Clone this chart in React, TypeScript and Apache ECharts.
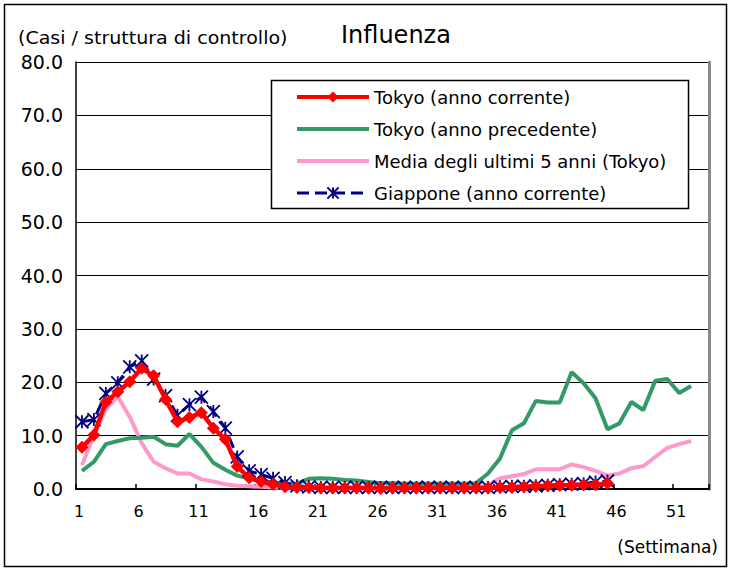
import React, { useEffect, useRef } from "react";
import * as echarts from "echarts";

const weeks = [
  "1","2","3","4","5","6","7","8","9","10","11","12","13","14","15","16","17","18","19","20",
  "21","22","23","24","25","26","27","28","29","30","31","32","33","34","35","36","37","38","39","40",
  "41","42","43","44","45","46","47","48","49","50","51","52","53",
];

const tokyoCurrent = [
  7.8, 10.1, 16.3, 18.2, 20.1, 22.6, 21.2, 16.8, 12.6, 13.4,
  14.3, 11.4, 9.3, 4.2, 2.1, 1.4, 0.9, 0.4, 0.3, 0.3,
  0.2, 0.2, 0.2, 0.2, 0.2, 0.1, 0.2, 0.2, 0.2, 0.2,
  0.2, 0.2, 0.2, 0.2, 0.2, 0.3, 0.3, 0.4, 0.5, 0.6,
  0.7, 0.7, 0.8, 0.8, 1.1,
];

const tokyoPrevious = [
  3.4, 5.1, 8.4, 9.0, 9.5, 9.6, 9.8, 8.4, 8.1, 10.3,
  7.9, 4.9, 3.6, 2.5, 2.0, 1.5, 1.2, 1.0, 1.0, 1.9,
  2.0, 1.9, 1.7, 1.6, 1.3, 1.1, 1.1, 1.0, 1.0, 1.0,
  1.0, 1.0, 1.0, 1.1, 2.9, 5.7, 11.0, 12.3, 16.5, 16.2,
  16.2, 21.9, 19.8, 17.0, 11.2, 12.3, 16.3, 14.8, 20.3, 20.6,
  18.0, 19.3,
];

const avg5Years = [
  4.5, 10.0, 15.0, 17.3, 13.5, 8.6, 5.1, 3.9, 2.9, 2.9,
  1.8, 1.4, 0.9, 0.6, 0.5, 0.4, 0.3, 0.3, 0.3, 0.3,
  0.3, 0.3, 0.3, 0.3, 0.3, 0.3, 0.3, 0.3, 0.3, 0.3,
  0.3, 0.3, 0.3, 0.3, 0.8, 2.0, 2.4, 2.8, 3.7, 3.7,
  3.7, 4.6, 4.1, 3.4, 2.5, 2.9, 3.9, 4.3, 6.0, 7.7,
  8.4, 9.0,
];

const japanCurrent = [
  12.6, 13.0, 17.9, 19.9, 22.9, 24.0, 20.6, 17.5, 13.8, 15.8,
  17.2, 14.5, 11.4, 6.0, 3.4, 2.7, 2.0, 1.2, 0.6, 0.4,
  0.3, 0.3, 0.3, 0.3, 0.3, 0.3, 0.3, 0.3, 0.3, 0.3,
  0.3, 0.3, 0.3, 0.3, 0.3, 0.4, 0.5, 0.5, 0.6, 0.7,
  0.8, 0.9, 1.0, 1.3, 1.5,
];

const names = [
  "Tokyo (anno corrente)",
  "Tokyo (anno precedente)",
  "Media degli ultimi 5 anni (Tokyo)",
  "Giappone (anno corrente)",
];

const FONT = "DejaVu Sans";
const STAR = "path://M0,0L10,10M10,0L0,10M5,0L5,10";

export default function App() {
  const ref = useRef<HTMLDivElement>(null);
  useEffect(() => {
    if (!ref.current) return;
    const chart = echarts.init(ref.current, undefined, { renderer: "svg" });
    chart.setOption({
      animation: false,
      backgroundColor: "#fff",
      textStyle: { fontFamily: FONT },
      title: {
        text: "Influenza",
        left: 336,
        top: 18,
        textStyle: { fontFamily: FONT, fontSize: 24, fontWeight: "normal", color: "#000" },
      },
      grid: { left: 76, right: 21, top: 62, bottom: 82, containLabel: false },
      legend: {
        orient: "vertical",
        left: 271,
        top: 80,
        padding: [8, 10, 10, 24],
        itemWidth: 72,
        itemHeight: 14,
        itemGap: 14,
        z: 10,
        lineStyle: { width: 4 },
        data: [
          { name: names[0] },
          { name: names[1], itemStyle: { opacity: 0 } },
          { name: names[2], itemStyle: { opacity: 0 } },
          { name: names[3], lineStyle: { width: 3 } },
        ],
        textStyle: { fontFamily: FONT, fontSize: 18, color: "#000" },
      },
      xAxis: {
        type: "category",
        data: weeks,
        boundaryGap: true,
        axisLine: { lineStyle: { color: "#000", width: 2 } },
        axisTick: { show: true, inside: true, length: 5, interval: 4, lineStyle: { color: "#000", width: 1.5 } },
        axisLabel: {
          interval: 4,
          margin: 14,
          padding: [0, 6, 0, 0],
          fontFamily: FONT,
          fontSize: 16,
          color: "#000",
        },
        splitLine: { show: false },
      },
      yAxis: [
        {
          type: "value",
          min: 0,
          max: 80,
          interval: 10,
          axisLine: { show: true, lineStyle: { color: "#000", width: 1.5 } },
          axisTick: { show: false },
          axisLabel: {
            margin: 13,
            fontFamily: FONT,
            fontSize: 19,
            color: "#000",
            formatter: (v: number) => v.toFixed(1),
          },
          splitLine: { show: true, lineStyle: { color: "#000", width: 1 } },
        },
        {
          type: "value",
          min: 0,
          max: 80,
          interval: 10,
          position: "right",
          axisLine: { show: true, lineStyle: { color: "#888", width: 3 } },
          axisTick: { show: false },
          axisLabel: { show: false },
          splitLine: { show: false },
        },
      ],
      graphic: [
        {
          type: "rect",
          shape: { x: 4.5, y: 4.5, width: 722, height: 562 },
          style: { fill: "none", stroke: "#000", lineWidth: 1.5 },
          silent: true,
          z: 1,
        },
        {
          type: "rect",
          shape: { x: 271.5, y: 80.5, width: 417, height: 128 },
          style: { fill: "#fff", stroke: "#000", lineWidth: 1.5 },
          silent: true,
          z: 8,
        },
        {
          type: "text",
          x: 18,
          y: 38,
          scaleX: 1.12,
          style: {
            text: "(Casi / struttura di controllo)",
            font: `17px '${FONT}'`,
            fill: "#000",
            textVerticalAlign: "middle",
          },
          z: 9,
        },
        {
          type: "text",
          x: 718,
          y: 547,
          style: {
            text: "(Settimana)",
            font: `17px '${FONT}'`,
            fill: "#000",
            textAlign: "right",
            textVerticalAlign: "middle",
          },
          z: 9,
        },
      ],
      series: [
        {
          name: names[0],
          type: "line",
          data: tokyoCurrent,
          z: 6,
          symbol: "diamond",
          symbolSize: 13,
          showAllSymbol: true,
          lineStyle: { color: "#ff0000", width: 4.5 },
          itemStyle: { color: "#ff0000" },
        },
        {
          name: names[1],
          type: "line",
          data: tokyoPrevious,
          z: 4,
          symbol: "none",
          lineStyle: { color: "#339966", width: 4 },
          itemStyle: { color: "#339966" },
        },
        {
          name: names[2],
          type: "line",
          data: avg5Years,
          z: 3,
          symbol: "none",
          lineStyle: { color: "#ff99cc", width: 4 },
          itemStyle: { color: "#ff99cc" },
        },
        {
          name: names[3],
          type: "line",
          data: japanCurrent,
          z: 5,
          symbol: STAR,
          symbolSize: 13,
          showAllSymbol: true,
          lineStyle: { color: "#000080", width: 3, type: [12, 6] },
          itemStyle: { color: "#000080", borderColor: "#000080", borderWidth: 1.8 },
        },
      ],
    });
    return () => chart.dispose();
  }, []);
  return (
    <div
      ref={ref}
      style={{ position: "fixed", left: 0, top: 0, width: 730, height: 571, background: "#fff" }}
    />
  );
}
